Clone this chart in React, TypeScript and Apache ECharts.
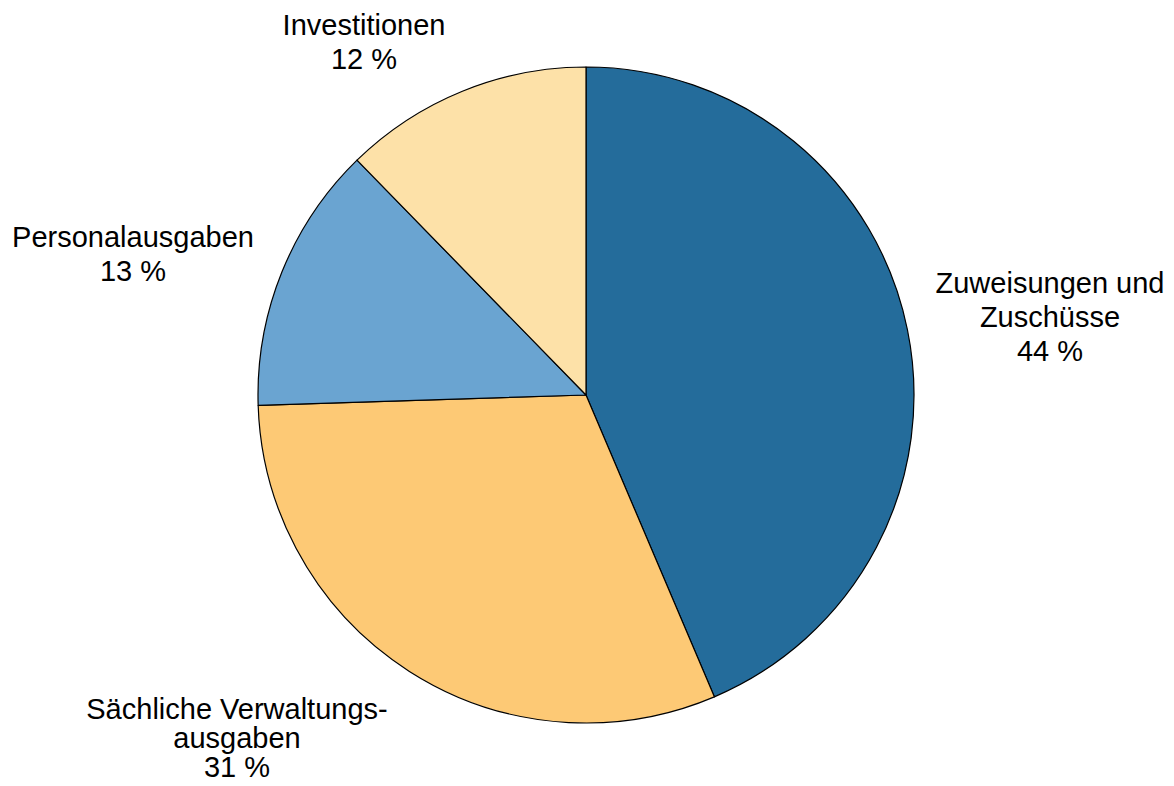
import React, { useEffect, useRef } from "react";
import * as echarts from "echarts";

const categories = ["Zuweisungen und\nZuschüsse", "Sächliche Verwaltungs-\nausgaben", "Personalausgaben", "Investitionen"];
const values = [43.6, 30.9, 13.2, 12.3];
const percentLabels = ["44 %", "31 %", "13 %", "12 %"];
const colors = ["#246c9b", "#fdc975", "#6aa4d1", "#fde1a8"];
const labelAnchors = [
  [1050, 317],
  [237, 738],
  [133, 254],
  [364, 42],
];
const labelLineHeights = [34, 29, 34, 34];

export default function App() {
  const ref = useRef<HTMLDivElement>(null);
  useEffect(() => {
    if (!ref.current) return;
    const chart = echarts.init(ref.current, null, { renderer: "svg" });
    chart.setOption({
      animation: false,
      backgroundColor: "#ffffff",
      series: [
        {
          type: "pie",
          center: [586, 395],
          radius: 328,
          startAngle: 90,
          clockwise: true,
          avoidLabelOverlap: false,
          itemStyle: { borderColor: "#000000", borderWidth: 1.2 },
          label: {
            show: true,
            position: "outside",
            fontFamily: "Liberation Sans, Arial, sans-serif",
            fontSize: 29,
            color: "#000000",
            align: "center",
            formatter: (p: any) => `${categories[p.dataIndex]}\n${percentLabels[p.dataIndex]}`,
          },
          labelLine: { show: false },
          labelLayout: (p: any) => ({
            x: labelAnchors[p.dataIndex][0],
            y: labelAnchors[p.dataIndex][1],
            align: "center",
            verticalAlign: "middle",
          }),
          emphasis: { disabled: true },
          data: values.map((v, i) => ({
            value: v,
            name: categories[i],
            itemStyle: { color: colors[i] },
            label: { lineHeight: labelLineHeights[i] },
          })),
        },
      ],
    });
    return () => chart.dispose();
  }, []);
  return (
    <div
      ref={ref}
      style={{ position: "absolute", left: 0, top: 0, width: 1174, height: 786 }}
    />
  );
}
